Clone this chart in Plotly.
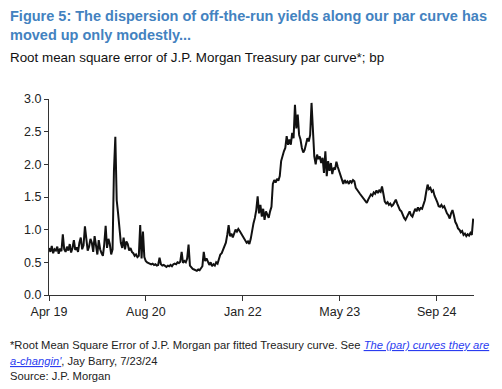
import pandas as pd
import plotly.graph_objects as go

# Weekly RMSE readings (bp)
rmse_bp = [
    0.72, 0.66, 0.75, 0.64, 0.70, 0.68, 0.74, 0.63, 0.71, 0.67,
    0.93, 0.70, 0.66, 0.74, 0.68, 0.78, 0.65, 0.72, 0.84, 0.69,
    0.73, 0.66, 0.80, 0.88, 0.70, 0.76, 1.05, 0.82, 0.68, 0.74,
    0.86, 0.80, 0.66, 0.90, 0.72, 0.62, 0.84, 0.70, 0.64, 0.60,
    0.78, 1.06, 0.72, 0.86, 0.78, 0.62, 0.70,
    1.90, 2.42, 1.45,
    1.25, 0.95, 0.80, 0.72, 0.88, 0.70, 0.82, 0.78, 0.68, 0.72,
    0.66, 0.64, 0.60, 0.62, 0.58, 0.60, 1.07, 0.56, 0.97, 0.58,
    0.52, 0.50, 0.49, 0.48, 0.47, 0.48, 0.46, 0.47, 0.45, 0.46,
    0.57, 0.47, 0.45, 0.46, 0.44, 0.43, 0.45, 0.44, 0.46, 0.44,
    0.47, 0.48, 0.47, 0.50, 0.49, 0.51, 0.66, 0.49, 0.52, 0.50,
    0.56, 0.77, 0.45, 0.42, 0.40, 0.39, 0.38, 0.37, 0.39, 0.38,
    0.41, 0.44, 0.66, 0.52, 0.56, 0.50,
    0.46, 0.50, 0.44, 0.47, 0.45, 0.50, 0.48, 0.55,
    0.62, 0.64, 0.70, 0.75, 0.80, 0.92, 1.07,
    0.90, 0.94, 0.88, 0.96, 1.00, 0.97, 1.01, 0.98, 0.94,
    0.90, 0.86, 0.84, 0.80, 0.82, 0.78, 0.86, 1.00, 1.10, 1.18,
    1.30, 1.51, 1.25, 1.38, 1.20, 1.32, 1.15, 1.28, 1.22, 1.18,
    1.28, 1.35, 1.70, 1.76, 1.72, 1.78, 1.75, 1.82, 2.05, 2.15,
    2.20, 2.25, 2.43, 2.30, 2.38, 2.30, 2.48, 2.40, 2.91, 2.55,
    2.76, 2.45, 2.38, 2.25, 2.18, 2.22, 2.32, 2.40, 2.35, 2.45,
    2.94, 2.40, 2.12, 2.00, 2.15, 2.08, 2.12, 2.02, 2.10, 1.87,
    2.20, 1.82, 2.05, 1.90, 2.02, 1.85, 1.95, 1.92, 2.04, 1.96,
    1.90, 1.82, 1.76, 1.70, 1.76, 1.72, 1.74, 1.70, 1.75, 1.72,
    1.76, 1.74, 1.64, 1.60, 1.58, 1.55, 1.52, 1.48, 1.45, 1.42,
    1.41, 1.46, 1.50, 1.54, 1.52, 1.57, 1.55, 1.60, 1.56, 1.60,
    1.58, 1.66, 1.55, 1.43, 1.40, 1.42, 1.38, 1.40, 1.36, 1.38,
    1.42, 1.46, 1.40, 1.35, 1.30, 1.28, 1.22, 1.18, 1.15, 1.20,
    1.23, 1.28, 1.22, 1.20, 1.26, 1.32, 1.28, 1.34, 1.30, 1.33,
    1.32, 1.38, 1.45, 1.58, 1.69, 1.62, 1.64, 1.58, 1.60, 1.52,
    1.48, 1.42, 1.36, 1.35, 1.38, 1.34, 1.36, 1.30, 1.25, 1.22,
    1.17, 1.25, 1.30, 1.22, 1.12, 1.08, 1.02, 1.00, 0.96, 0.98,
    0.92, 0.94, 0.90, 0.93, 0.91, 0.95, 0.92, 1.17,
]
start_date = "2019-04-25"
dates = pd.date_range(start_date, periods=len(rmse_bp), freq="7D")

tick_dates = ["2019-04-25", "2020-08-28", "2022-01-01", "2023-05-07", "2024-09-09"]
tick_labels = ["Apr 19", "Aug 20", "Jan 22", "May 23", "Sep 24"]
y_ticks = [0.0, 0.5, 1.0, 1.5, 2.0, 2.5, 3.0]

title_lines = [
    "Figure 5: The dispersion of off-the-run yields along our par curve has",
    "moved up only modestly...",
]
subtitle = "Root mean square error of J.P. Morgan Treasury par curve*; bp"
link_style = "color:#2a3cf0;font-style:italic;text-decoration:underline"
foot1 = ("*Root Mean Square Error of J.P. Morgan par fitted Treasury curve. See "
         f"<span style='{link_style}'>The (par) curves they are</span>")
foot2 = f"<span style='{link_style}'>a-changin'</span>, Jay Barry, 7/23/24"
foot3 = "Source: J.P. Morgan"

# page offset: browser body margin of 8px
OFF = 8
W, H = 502 - OFF, 389 - OFF
# plot box in window pixels: x 49..474, y 99..295
L, R, T, B = 49 - OFF, 502 - 474, 99 - OFF, 389 - 295
pw, ph = W - L - R, H - T - B

def px(x):  # window pixel -> paper
    return (x - OFF - L) / pw

def py(y):
    return (H - B - (y - OFF)) / ph

FONT = "Liberation Sans, Arial, sans-serif"

fig = go.Figure()
fig.add_trace(go.Scatter(x=dates, y=rmse_bp, mode="lines",
                         line=dict(color="#111111", width=2), hoverinfo="skip"))

anns = []
anns.append(dict(text="<b>" + title_lines[0] + "</b>", x=px(8), y=py(16), font=dict(size=14.5, color="#4382C0")))
anns.append(dict(text="<b>" + title_lines[1] + "</b>", x=px(8), y=py(35), font=dict(size=14.5, color="#4382C0")))
anns.append(dict(text=subtitle, x=px(8), y=py(57), font=dict(size=13.4, color="#111111")))
anns.append(dict(text=foot1, x=px(8), y=py(345), font=dict(size=11.2, color="#222222")))
anns.append(dict(text=foot2, x=px(8), y=py(361), font=dict(size=11.2, color="#222222")))
anns.append(dict(text=foot3, x=px(8), y=py(376), font=dict(size=11.2, color="#222222")))
for a in anns:
    a.update(xref="paper", yref="paper", xanchor="left", yanchor="middle",
             showarrow=False, align="left")

fig.update_layout(
    width=W, height=H,
    margin=dict(l=L, r=R, t=T, b=B),
    paper_bgcolor="white", plot_bgcolor="white",
    showlegend=False,
    font=dict(family=FONT, size=12, color="#222222"),
    annotations=anns,
    xaxis=dict(range=["2019-04-25", "2025-03-17"], tickvals=tick_dates, ticktext=tick_labels,
               showline=True, linecolor="#333333", linewidth=1, ticks="outside",
               ticklen=5, tickcolor="#333333", showgrid=False, zeroline=False,
               tickfont=dict(size=12.5, color="#222222")),
    yaxis=dict(range=[0, 3], tickvals=y_ticks, tickformat=".1f",
               showline=True, linecolor="#333333", linewidth=1, ticks="outside",
               ticklen=4, tickcolor="#333333", showgrid=False, zeroline=False,
               tickfont=dict(size=12.5, color="#222222")),
)

fig.write_html("out.html")
